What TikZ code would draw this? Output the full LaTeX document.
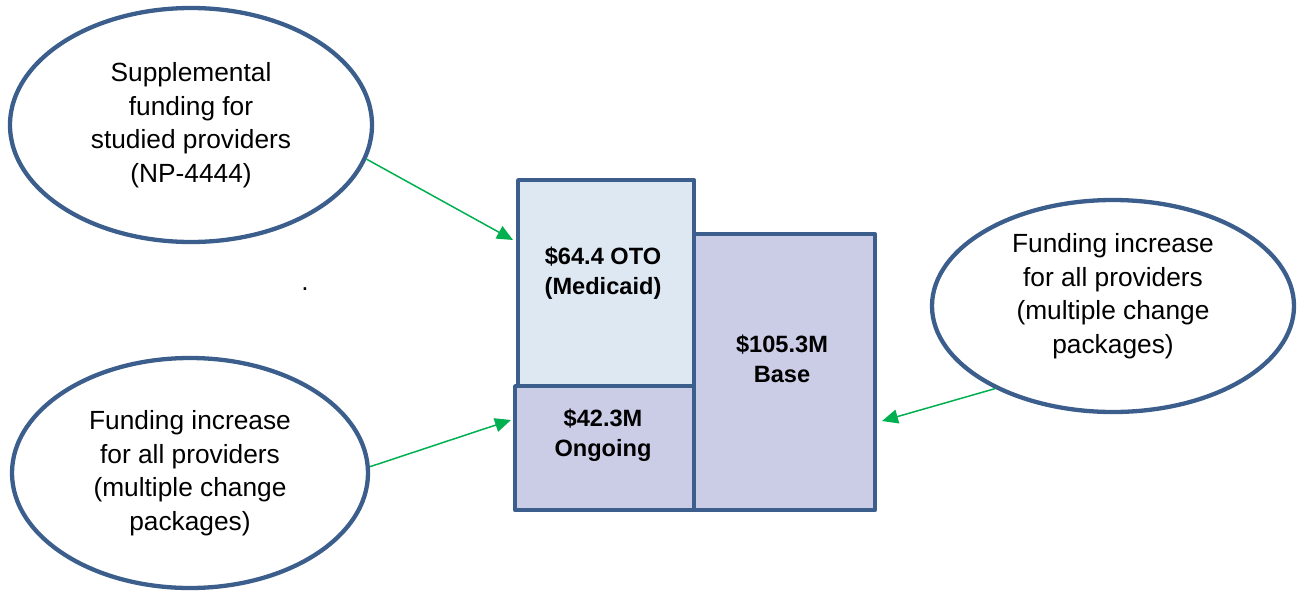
\documentclass[tikz,border=0pt]{standalone}
\usepackage{fontspec}
\setmainfont{Liberation Sans}
\usetikzlibrary{shapes.geometric,arrows.meta,positioning}
\definecolor{bordblue}{RGB}{59,94,140}
\definecolor{otofill}{RGB}{222,232,243}
\definecolor{basefill}{RGB}{203,204,230}
\definecolor{arrgreen}{RGB}{0,176,80}
\begin{document}
\begin{tikzpicture}[x=1pt,y=-1pt,
    oval/.style={ellipse,draw=bordblue,line width=4.3pt,inner sep=0pt,align=center,font=\fontsize{26.3}{33.5}\selectfont},
    block/.style={rectangle,draw=bordblue,line width=4.3pt,line join=round,anchor=north west,inner sep=0pt},
    amount/.style={align=center,font=\bfseries\fontsize{23.6}{30}\selectfont},
    feed/.style={draw=arrgreen,line width=1.5pt,-{Triangle[length=16pt,width=14pt]}}]
  \useasboundingbox (0,0) rectangle (1298,592);
  % the three funding sources
  \node[oval,minimum width=362pt,minimum height=234pt] (supp) at (191,125) {Supplemental\\funding for\\studied providers\\(NP-4444)};
  \node[oval,minimum width=356pt,minimum height=230pt] (incl) at (190,473) {Funding increase\\for all providers\\(multiple change\\packages)};
  \node[oval,minimum width=362pt,minimum height=212pt] (incr) at (1113,306) {};
  \node[align=center,font=\fontsize{26.3}{33.5}\selectfont] (incrtext) at (1113,296) {Funding increase\\for all providers\\(multiple change\\packages)};
  \node[font=\fontsize{26.3}{33.5}\selectfont] (dot) at (305,289) {.};
  % the budget blocks
  \node[block,fill=otofill,minimum width=176pt,minimum height=206pt] (oto) at (516,178) {};
  \node[block,fill=basefill,minimum width=179pt,minimum height=124pt] (ongoing) at (513,384) {};
  \node[block,fill=basefill,minimum width=181pt,minimum height=276pt] (base) at (692,232) {};
  \node[amount] (ototext) at (603,273) {\$64.4 OTO\\(Medicaid)};
  \node[amount] (ongoingtext) at (603,435) {\$42.3M\\Ongoing};
  \node[amount] (basetext) at (782,359) {\$105.3M\\Base};
  % arrows
  \coordinate (otoin) at (513,240);
  \coordinate (ongoingin) at (511,420);
  \coordinate (basein) at (882,421);
  \draw[feed] (supp.-11) -- (otoin);
  \draw[feed] (incl.2) -- (ongoingin);
  \draw[feed] (incr.215) -- (basein);
\end{tikzpicture}
\end{document}
